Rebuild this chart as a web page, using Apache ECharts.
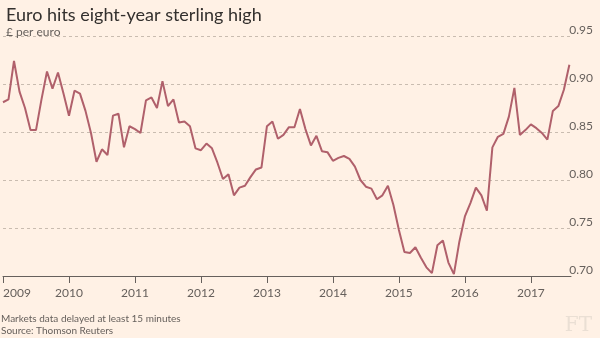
<!DOCTYPE html>
<html><head><meta charset="utf-8">
<script src="https://cdn.jsdelivr.net/npm/echarts@6/dist/echarts.min.js"></script>
<style>html,body{margin:0;padding:0;background:#fff1e5}#c{width:600px;height:338px}</style>
</head><body><div id="c"></div>
<script>
const months = [
 '2009-01','2009-02','2009-03','2009-04','2009-05','2009-06','2009-07','2009-08','2009-09','2009-10','2009-11','2009-12',
 '2010-01','2010-02','2010-03','2010-04','2010-05','2010-06','2010-07','2010-08','2010-09','2010-10','2010-11','2010-12',
 '2011-01','2011-02','2011-03','2011-04','2011-05','2011-06','2011-07','2011-08','2011-09','2011-10','2011-11','2011-12',
 '2012-01','2012-02','2012-03','2012-04','2012-05','2012-06','2012-07','2012-08','2012-09','2012-10','2012-11','2012-12',
 '2013-01','2013-02','2013-03','2013-04','2013-05','2013-06','2013-07','2013-08','2013-09','2013-10','2013-11','2013-12',
 '2014-01','2014-02','2014-03','2014-04','2014-05','2014-06','2014-07','2014-08','2014-09','2014-10','2014-11','2014-12',
 '2015-01','2015-02','2015-03','2015-04','2015-05','2015-06','2015-07','2015-08','2015-09','2015-10','2015-11','2015-12',
 '2016-01','2016-02','2016-03','2016-04','2016-05','2016-06','2016-07','2016-08','2016-09','2016-10','2016-11','2016-12',
 '2017-01','2017-02','2017-03','2017-04','2017-05','2017-06','2017-07','2017-08'
];
const rates = [
 0.881,0.884,0.924,0.892,0.875,0.852,0.852,0.884,0.913,0.895,0.912,0.890,
 0.867,0.893,0.890,0.872,0.849,0.819,0.832,0.826,0.867,0.869,0.834,0.856,
 0.853,0.849,0.883,0.886,0.875,0.903,0.877,0.884,0.860,0.861,0.856,0.833,
 0.831,0.838,0.833,0.818,0.801,0.806,0.784,0.792,0.794,0.803,0.811,0.813,
 0.856,0.861,0.843,0.847,0.855,0.855,0.874,0.853,0.836,0.846,0.830,0.829,
 0.820,0.823,0.825,0.822,0.814,0.800,0.793,0.791,0.780,0.784,0.794,0.774,
 0.748,0.725,0.724,0.730,0.719,0.709,0.703,0.732,0.737,0.714,0.702,0.736,
 0.762,0.776,0.792,0.784,0.768,0.834,0.845,0.848,0.866,0.896,0.847,0.852,
 0.858,0.854,0.849,0.842,0.872,0.877,0.894,0.920
];
const yearTicks = [2009, 2010, 2011, 2012, 2013, 2014, 2015, 2016, 2017];
const yTicks = [0.70, 0.75, 0.80, 0.85, 0.90, 0.95];
const titleText = 'Euro hits eight-year sterling high';
const subtitleText = '£ per euro';
const footnote = 'Markets data delayed at least 15 minutes';
const sourceText = 'Source: Thomson Reuters';

const toYear = s => { const [y, m] = s.split('-').map(Number); return y + (m - 1) / 12; };
const seriesData = months.map((m, i) => [toYear(m), rates[i]]);

const FONT = 'Lato, "Open Sans", sans-serif';
const GREY = '#66605c';
const chart = echarts.init(document.getElementById('c'), null, { renderer: 'canvas' });
chart.setOption({
  backgroundColor: '#fff1e5',
  animation: false,
  title: [
    { text: titleText, left: 1, top: 1, textStyle: { fontFamily: FONT, fontSize: 18, fontWeight: 'normal', color: '#33302e' } },
    { text: subtitleText, left: 1, top: 21, textStyle: { fontFamily: FONT, fontSize: 12, fontWeight: 'normal', color: GREY } }
  ],
  graphic: [
    { type: 'text', left: 1, top: 314, style: { text: footnote, font: '10px ' + FONT, fill: GREY } },
    { type: 'text', left: 1, top: 326, style: { text: sourceText, font: '10px ' + FONT, fill: GREY } },
    { type: 'text', right: 8, top: 316, style: { text: 'FT', font: '20px "DejaVu Serif", serif', fill: '#eadfd4' } }
  ],
  grid: { left: 2, right: 29, top: 36, bottom: 62, containLabel: false },
  xAxis: {
    type: 'value', min: yearTicks[0], max: 2017.608, interval: 1,
    axisLine: { show: true, lineStyle: { color: GREY, width: 1 } },
    axisTick: { show: true, length: 7, lineStyle: { color: GREY } },
    splitLine: { show: false },
    axisLabel: {
      fontFamily: FONT, fontSize: 12, color: GREY, margin: 11,
      showMaxLabel: false, alignMinLabel: 'left',
      formatter: v => yearTicks.includes(Math.round(v)) ? String(Math.round(v)) : ''
    }
  },
  yAxis: {
    type: 'value', position: 'right', min: yTicks[0], max: yTicks[yTicks.length - 1], interval: 0.05,
    axisLine: { show: false }, axisTick: { show: false },
    splitLine: { show: true, lineStyle: { color: '#c9bcb0', type: [3, 3], width: 1 } },
    axisLabel: {
      fontFamily: FONT, fontSize: 12, color: GREY, margin: 22, align: 'right', verticalAlign: 'bottom',
      formatter: v => v.toFixed(2)
    }
  },
  series: [{
    type: 'line', data: seriesData, showSymbol: false, symbol: 'none',
    lineStyle: { color: '#b0606b', width: 2 }, clip: false
  }]
});
</script></body></html>
